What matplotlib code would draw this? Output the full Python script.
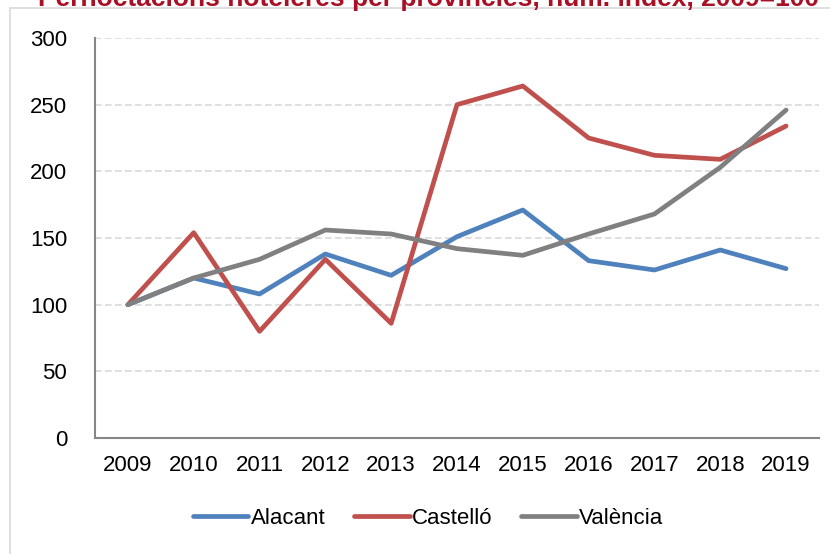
import matplotlib as mpl
import matplotlib.pyplot as plt
from matplotlib.patches import Rectangle

mpl.use('Agg')

anys = ['2009', '2010', '2011', '2012', '2013', '2014', '2015', '2016', '2017', '2018', '2019']
alacant = [100, 120, 108, 138, 122, 151, 171, 133, 126, 141, 127]
castello = [100, 154, 80, 134, 86, 250, 264, 225, 212, 209, 234]
valencia = [100, 120, 134, 156, 153, 142, 137, 153, 168, 203, 246]

plt.rcParams['font.family'] = ['Liberation Sans', 'DejaVu Sans']

fig = plt.figure(figsize=(8.3, 5.54), dpi=100)

# marc del grafic
fig.patches.append(Rectangle((10 / 830, -0.1), 1.2, (554 - 8) / 554 + 0.1,
                             transform=fig.transFigure, fill=False,
                             edgecolor='#D9D9D9', linewidth=1.2))

fig.text(38 / 830, 548 / 554, 'Pernoctacions hoteleres per províncies, núm. índex, 2009=100',
         color='#A81025', fontsize=19, fontweight='bold', va='baseline', ha='left')

ax = fig.add_axes([95 / 830, (554 - 438) / 554, (819 - 95) / 830, 400 / 554])

x = range(len(anys))
ax.plot(x, alacant, color='#4F81BD', linewidth=3.4, label='Alacant', solid_capstyle='round')
ax.plot(x, castello, color='#C0504D', linewidth=3.4, label='Castelló', solid_capstyle='round')
ax.plot(x, valencia, color='#808080', linewidth=3.4, label='València', solid_capstyle='round')

ax.set_xlim(-0.5, len(anys) - 0.5)
ax.set_ylim(0, 300)
ax.set_yticks(range(0, 301, 50))
ax.set_xticks(list(x))
ax.set_xticklabels(anys)
ax.tick_params(length=0, labelsize=16, colors='black')
ax.tick_params(axis='x', pad=12)
ax.tick_params(axis='y', pad=20)
ax.grid(axis='y', color='#D9D9D9', linestyle=(0, (4, 2)), linewidth=1.2)
ax.set_axisbelow(True)
for s in ['top', 'right']:
    ax.spines[s].set_visible(False)
for s in ['left', 'bottom']:
    ax.spines[s].set_color('#868686')
    ax.spines[s].set_linewidth(1.5)

fig.legend(loc='center', bbox_to_anchor=(428 / 830, (554 - 518) / 554), ncol=3,
           frameon=False, fontsize=16, handlelength=2.5, handletextpad=0.1,
           columnspacing=1.3)

fig.savefig('out.png', dpi=100)
